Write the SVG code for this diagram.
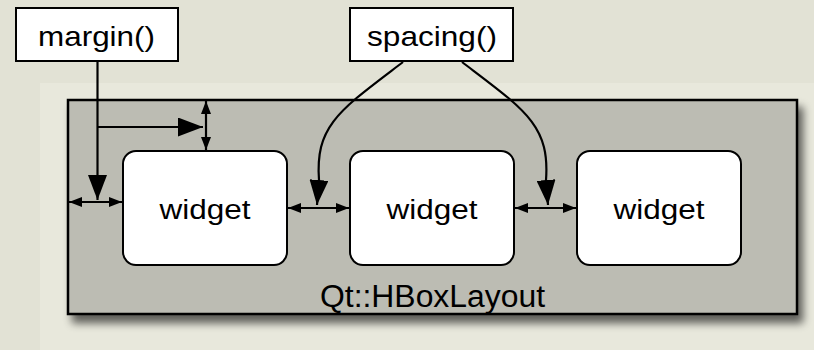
<svg xmlns="http://www.w3.org/2000/svg" width="814" height="350" viewBox="0 0 814 350">
  <style>
    .bg { fill: #e2e2d5; }
    .panel { fill: #e8e8dc; }
    .layout { fill: #bcbcb3; stroke: #000; stroke-width: 2.5; }
    .box { fill: #fff; stroke: #000; stroke-width: 2; }
    .widget { fill: #fff; stroke: #000; stroke-width: 2; }
    .lbl { font-family: "Liberation Sans", Arial, sans-serif; fill: #000; text-anchor: middle; }
    .ln { fill: none; stroke: #000; stroke-width: 2.2; }
  </style>
  <defs>
    <marker id="big" markerUnits="userSpaceOnUse" markerWidth="25" markerHeight="19" refX="25" refY="9.5" orient="auto" viewBox="0 0 25 19">
      <path d="M0,0 L25,9.5 L0,19 z" fill="#000"/>
    </marker>
    <marker id="small" markerUnits="userSpaceOnUse" markerWidth="13" markerHeight="10" refX="13" refY="5" orient="auto-start-reverse" viewBox="0 0 13 10">
      <path d="M0,0 L13,5 L0,10 z" fill="#000"/>
    </marker>
    <filter id="shadow" x="-5%" y="-10%" width="115%" height="130%">
      <feGaussianBlur in="SourceAlpha" stdDeviation="4"/>
      <feOffset dx="5" dy="8" result="b"/>
      <feComponentTransfer><feFuncA type="linear" slope="0.6"/></feComponentTransfer>
      <feMerge><feMergeNode/><feMergeNode in="SourceGraphic"/></feMerge>
    </filter>
  </defs>

  <rect class="bg" x="0" y="0" width="814" height="350"/>
  <rect class="panel" x="40" y="83" width="774" height="267"/>

  <g id="layout">
    <rect class="layout" x="68" y="100" width="729" height="214" filter="url(#shadow)"/>
    <text class="lbl" x="432.5" y="307" font-size="31" textLength="225" lengthAdjust="spacingAndGlyphs">Qt::HBoxLayout</text>
  </g>

  <g id="margin">
    <rect class="box" x="16" y="8" width="162" height="53"/>
    <text class="lbl" x="96.5" y="46" font-size="28" textLength="117" lengthAdjust="spacingAndGlyphs">margin()</text>
  </g>

  <g id="spacing">
    <rect class="box" x="350" y="8" width="163" height="53"/>
    <text class="lbl" x="432" y="46" font-size="28" textLength="130" lengthAdjust="spacingAndGlyphs">spacing()</text>
  </g>

  <g id="widget1">
    <rect class="widget" x="123" y="151" width="164" height="114" rx="13"/>
    <text class="lbl" x="205" y="219" font-size="27" textLength="91" lengthAdjust="spacingAndGlyphs">widget</text>
  </g>
  <g id="widget2">
    <rect class="widget" x="350" y="151" width="164" height="114" rx="13"/>
    <text class="lbl" x="432" y="219" font-size="27" textLength="91" lengthAdjust="spacingAndGlyphs">widget</text>
  </g>
  <g id="widget3">
    <rect class="widget" x="577" y="151" width="164" height="114" rx="13"/>
    <text class="lbl" x="659" y="219" font-size="27" textLength="91" lengthAdjust="spacingAndGlyphs">widget</text>
  </g>

  <g id="connectors">
    <path class="ln" d="M97.5,61 L97.5,200" marker-end="url(#big)"/>
    <path class="ln" d="M97.5,127 L203,127" marker-end="url(#big)"/>
    <path class="ln" d="M206,101 L206,150" marker-start="url(#small)" marker-end="url(#small)"/>
    <path class="ln" d="M69,202 L122,202" marker-start="url(#small)" marker-end="url(#small)"/>
    <path class="ln" d="M288,208 L349,208" marker-start="url(#small)" marker-end="url(#small)"/>
    <path class="ln" d="M515,208 L576,208" marker-start="url(#small)" marker-end="url(#small)"/>
    <path class="ln" d="M403,62 C340,110 315,125 319,180 L317,205" marker-end="url(#big)"/>
    <path class="ln" d="M462,62 C525,110 550,125 546,180 L548,205" marker-end="url(#big)"/>
  </g>
</svg>
